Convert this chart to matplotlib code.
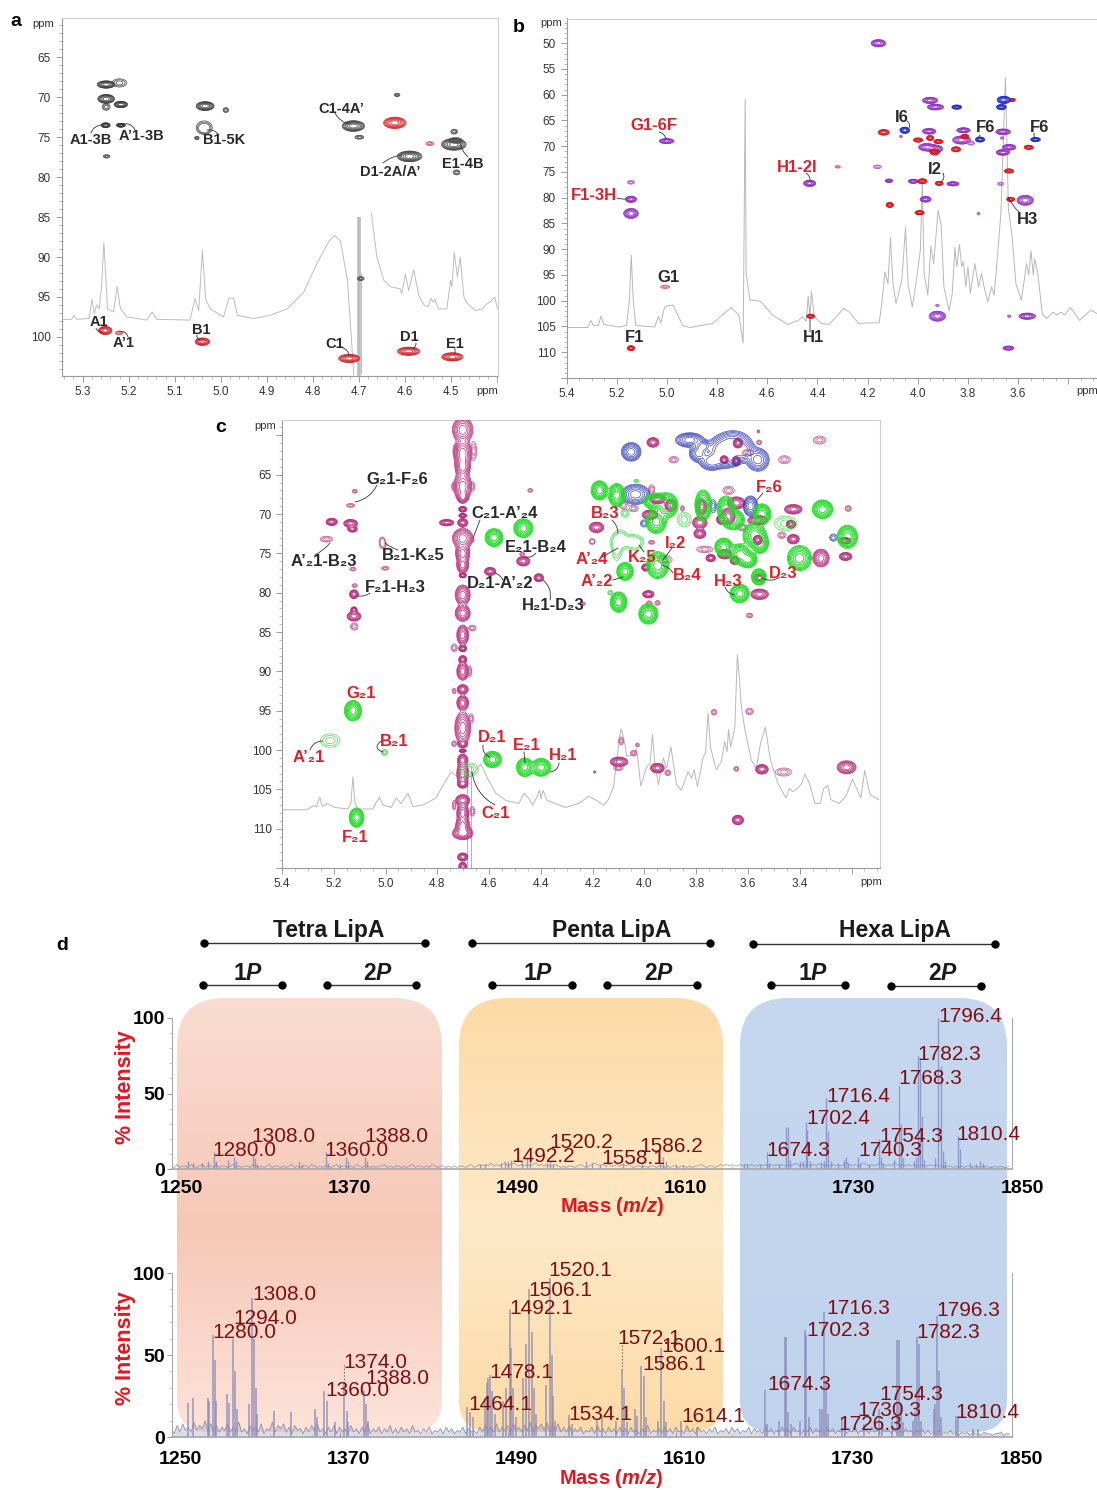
import numpy as np
import matplotlib
matplotlib.use("Agg")
import matplotlib.pyplot as plt
from matplotlib.patches import PathPatch
from matplotlib.path import Path
from matplotlib.ticker import MultipleLocator
from matplotlib.transforms import ScaledTranslation

plt.rcParams["font.family"] = ["Liberation Sans", "DejaVu Sans"]
plt.rcParams["mathtext.fontset"] = "custom"
plt.rcParams["mathtext.bfit"] = "Liberation Sans:italic:bold"
plt.rcParams["mathtext.it"] = "Liberation Sans:italic"
plt.rcParams["mathtext.rm"] = "Liberation Sans"

W, H = 1097, 1490

# every spot is (proton ppm, carbon ppm, half width, half height)
a_black = [(5.249, 68.4, .016, .38), (5.249, 70.2, .015, .46), (5.217, 70.9, .012, .33),
           (5.250, 73.5, .008, .25), (5.217, 73.5, .008, .2), (5.034, 71.1, .016, .46),
           (4.712, 73.6, .02, .55), (4.590, 77.4, .022, .55), (4.494, 75.9, .022, .6)]
a_black_light = [(5.220, 68.2, .013, .42), (5.249, 71.2, .007, .35), (5.248, 77.4, .006, .17),
                 (5.036, 73.7, .013, .6), (5.036, 74.0, .009, .4), (4.989, 71.6, .005, .25),
                 (5.052, 75.1, .004, .17), (4.699, 75.0, .008, .2), (4.617, 69.7, .005, .17),
                 (4.493, 74.3, .006, .25), (4.488, 79.4, .006, .25), (4.696, 92.7, .006, .2),
                 (4.490, 75.4, .012, .3)]
a_red = [(4.622, 73.2, .02, .58), (5.251, 99.2, .012, .42), (5.040, 100.6, .013, .38),
         (4.721, 102.7, .019, .42), (4.592, 101.8, .02, .42), (4.497, 102.5, .019, .42)]
a_red_light = [(4.546, 75.8, .007, .2), (5.221, 99.5, .007, .2)]

a_trace_x = [5.346, 5.324, 5.319, 5.313, 5.286, 5.280, 5.275, 5.270, 5.264, 5.259, 5.254, 5.251,
             5.246, 5.233, 5.225, 5.218, 5.204, 5.161, 5.149, 5.139, 5.067, 5.056, 5.048, 5.040,
             5.033, 5.023, 4.994, 4.982, 4.972, 4.964, 4.929, 4.893, 4.856, 4.820, 4.791, 4.766,
             4.753, 4.740, 4.725, 4.719, 4.711]
a_trace_y = [97.8, 97.8, 97.3, 97.8, 97.7, 95.3, 97.1, 96.0, 96.5, 93.7, 88.2, 91.2,
             96.5, 96.9, 93.7, 96.5, 97.5, 97.9, 96.9, 97.8, 97.9, 95.2, 96.7, 89.1,
             95.2, 96.5, 97.5, 95.1, 95.2, 97.3, 97.7, 97.3, 96.5, 94.4, 90.8, 88.1,
             87.3, 88.0, 92.9, 97.9, 105.0]
a_trace2_x = [4.673, 4.661, 4.646, 4.632, 4.610, 4.607, 4.599, 4.592, 4.581, 4.570, 4.559, 4.549,
              4.544, 4.539, 4.535, 4.527, 4.509, 4.501, 4.498, 4.493, 4.486, 4.480, 4.472, 4.465,
              4.447, 4.432, 4.421, 4.414, 4.405, 4.399]
a_trace2_y = [84.5, 90.0, 92.9, 93.7, 94.0, 94.6, 92.1, 94.2, 91.6, 94.8, 96.0, 96.2,
              95.2, 95.6, 95.3, 96.5, 96.5, 92.9, 93.7, 89.4, 92.5, 90.0, 95.0, 95.8,
              96.7, 96.5, 95.8, 95.6, 95.0, 96.5]
a_labels = ["A1-3B", "A’1-3B", "B1-5K", "C1-4A’", "D1-2A/A’", "E1-4B", "A1", "A’1", "B1", "C1", "D1", "E1"]

b_purple = [(4.157, 50, .024, .58), (5.143, 83.05, .024, .8), (5.143, 80.3, .018, .5),
            (5.001, 69, .024, .4), (4.431, 77.2, .02, .5), (3.951, 61.1, .025, .5),
            (3.930, 62.4, .027, .45), (3.955, 67.1, .022, .45), (3.818, 66.9, .022, .4),
            (3.825, 68.8, .03, .65), (3.964, 70.2, .027, .6), (3.930, 70.5, .024, .6),
            (3.660, 67.2, .024, .45), (3.636, 70.2, .022, .45), (3.661, 71.2, .022, .45),
            (4.018, 76.8, .016, .33), (3.860, 77.3, .02, .33), (3.969, 80.3, .018, .45),
            (3.572, 80.5, .027, .8), (3.922, 103, .027, .8), (3.564, 103, .027, .5),
            (3.639, 109.2, .018, .33), (4.115, 76.7, .012, .27)]
b_purple_light = [(5.143, 77, .012, .3), (4.161, 74, .013, .3), (3.670, 77.3, .01, .27),
                  (3.758, 83.1, .005, .2), (3.636, 103, .006, .2), (3.922, 100.9, .006, .2),
                  (3.788, 69.4, .012, .33), (3.664, 68.4, .006, .2), (4.067, 68.1, .005, .2)]
b_red = [(4.136, 67.3, .018, .45), (3.999, 68.8, .015, .33), (3.951, 68.4, .012, .4),
         (3.918, 69.1, .015, .33), (3.813, 68.1, .013, .33), (3.933, 71.1, .016, .5),
         (3.848, 70.6, .015, .4), (3.558, 70.2, .015, .33), (3.637, 74.8, .015, .33),
         (3.982, 76.8, .015, .4), (3.915, 77.2, .013, .33), (3.630, 80.3, .013, .33),
         (4.112, 81.4, .012, .4), (3.993, 82.9, .015, .33), (4.427, 103, .013, .33),
         (5.143, 109.2, .012, .4), (3.624, 61, .01, .25)]
b_red_light = [(5.007, 97.3, .015, .27), (4.319, 74, .009, .2)]
b_blue = [(4.052, 66.9, .016, .5), (3.845, 62.4, .016, .33), (3.657, 61, .022, .58),
          (3.667, 62.4, .016, .4), (3.752, 68.7, .015, .4), (3.531, 68.7, .016, .33)]

b_trace_x = [5.396, 5.315, 5.303, 5.293, 5.273, 5.263, 5.251, 5.191, 5.161, 5.149, 5.142, 5.134, 5.124,
             5.049, 5.034, 5.024, 5.009, 4.994, 4.975, 4.937, 4.907, 4.818, 4.773, 4.743, 4.713, 4.696,
             4.688, 4.684, 4.669, 4.646, 4.624, 4.579, 4.519, 4.475, 4.460, 4.445, 4.437, 4.430, 4.424,
             4.412, 4.385, 4.355, 4.325, 4.296, 4.273, 4.236, 4.199, 4.154, 4.142, 4.131, 4.119, 4.109,
             4.099, 4.087, 4.064, 4.049, 4.039, 4.022, 4.004, 3.990, 3.982, 3.975, 3.960, 3.948, 3.937,
             3.919, 3.907, 3.896, 3.875, 3.863, 3.852, 3.845, 3.834, 3.825, 3.818, 3.809, 3.800, 3.791,
             3.773, 3.758, 3.746, 3.736, 3.721, 3.706, 3.696, 3.684, 3.669, 3.651, 3.639, 3.624, 3.609,
             3.587, 3.567, 3.558, 3.549, 3.540, 3.534, 3.522, 3.504, 3.487, 3.460, 3.445, 3.430, 3.415,
             3.393, 3.378, 3.355, 3.333, 3.310, 3.286]
b_trace_y = [105.2, 105.2, 103.8, 104.8, 104.8, 103.0, 104.6, 105.1, 104.8, 99.9, 91.2, 99.9, 104.8,
             105.1, 103.1, 104.3, 101.2, 100.9, 100.9, 104.8, 105.2, 104.4, 102.5, 101.3, 102.8, 108.2,
             60.8, 94.7, 99.9, 99.9, 100.2, 102.8, 104.6, 103.8, 103.1, 104.0, 99.1, 103.1, 98.2,
             103.1, 104.4, 104.6, 103.1, 101.5, 102.2, 104.4, 104.3, 104.3, 99.9, 94.4, 96.7, 87.7,
             96.7, 100.5, 96.0, 85.8, 96.7, 101.2, 95.4, 90.2, 76.6, 94.7, 98.9, 89.4, 92.8,
             82.4, 85.3, 97.3, 102.0, 98.6, 89.7, 93.4, 89.1, 93.4, 92.4, 97.3, 93.4, 98.6,
             92.8, 97.3, 94.7, 97.3, 100.2, 97.3, 98.9, 92.2, 83.1, 56.7, 82.2, 87.7, 96.7,
             99.9, 92.8, 95.0, 90.3, 95.0, 91.8, 94.7, 102.5, 103.5, 102.2, 102.8, 102.2, 102.8,
             101.3, 102.2, 103.8, 102.8, 101.8, 102.5]
b_labels_red = ["G1-6F", "F1-3H", "H1-2I"]
b_labels_black = ["I6", "F6", "F6", "I2", "H3", "G1", "F1", "H1"]

c_stripe_y = [59.3, 62.3, 64, 66.5, 67.8, 69.4, 70.2, 71.1, 73.1, 75, 76.5, 77.8, 80.3, 82.6, 85.4, 87.1,
              88.5, 90, 92.3, 94, 97.2, 99.2, 100.1, 101.3, 103, 104.3, 106.4, 108, 109.7, 110.6, 113.6, 114.8]
c_stripe_hw = [.026, .023, .019, .023, .013, .01, .01, .013, .026, .018, .015, .009,
               .019, .019, .015, .01, .01, .015, .014, .015, .02, .012, .009, .013,
               .015, .013, .018, .015, .018, .026, .013, .01]
c_stripe_hh = [1.3, 1.5, 1.1, 1.5, .65, .3, .22, .42, 1.05, 1.05, .85, .26,
               1.05, .85, 1.05, .34, .42, .93, .5, .76, 1.7, .42, .17, .64,
               1.3, .42, .6, 1.05, 1.05, .64, .42, .42]
c_magenta = [(5.208, 71, .018, .38), (5.135, 71.2, .022, .42), (5.128, 71.9, .015, .33),
             (5.122, 80.2, .014, .46), (5.122, 83, .022, .5), (5.122, 82.2, .01, .33),
             (4.764, 71.1, .023, .33), (4.596, 77.3, .018, .42), (4.468, 76, .021, .5),
             (4.408, 78.1, .015, .42), (4.185, 71.7, .023, .55), (3.967, 60.9, .019, .5),
             (3.949, 68.1, .025, .5), (3.898, 68.9, .019, .64), (3.978, 70.1, .025, .5),
             (3.78, 69.1, .018, .85), (3.786, 71.1, .023, .64), (3.786, 72.5, .019, .5),
             (3.703, 70.7, .015, .5), (3.645, 68.6, .028, .64), (3.677, 70.3, .023, .85),
             (3.562, 70.8, .032, .5), (3.425, 69.4, .028, .5), (3.434, 71.3, .015, .42),
             (3.425, 73.2, .019, .5), (3.562, 73.3, .015, .5), (3.69, 75.1, .023, .5),
             (3.744, 75.6, .015, .38), (3.651, 75.9, .015, .42), (3.318, 75.6, .026, .93),
             (3.223, 75.4, .02, .42), (3.226, 73.4, .02, .34), (3.555, 78.1, .019, .42),
             (3.555, 80.2, .028, .55), (3.985, 80.2, .018, .38), (3.995, 76.8, .013, .38),
             (3.95, 102.3, .022, .5), (3.546, 102.45, .02, .5), (3.219, 102.2, .03, .68),
             (3.639, 108.9, .018, .5), (4.098, 101.5, .028, .5), (3.645, 63.3, .013, .5),
             (3.692, 63.1, .013, .42), (3.639, 61, .015, .5)]
c_magenta_light = [(5.119, 67.1, .008, .2), (5.135, 68.9, .013, .2), (5.228, 73.2, .02, .3),
                   (5.013, 73.4, .008, .38), (5.01, 73.9, .01, .42), (5.001, 76.9, .012, .2),
                   (5.126, 77, .01, .2), (5.119, 79.1, .008, .2), (5.121, 84.3, .012, .38),
                   (4.472, 75.1, .008, .2), (4.441, 67, .008, .2), (4.664, 73.3, .005, .25),
                   (4.2, 73.5, .006, .2), (4.235, 81.4, .005, .17), (3.887, 63.1, .015, .34),
                   (3.6, 62.2, .018, .34), (3.557, 60.9, .008, .25), (3.56, 59.5, .004, .17),
                   (3.323, 60.6, .02, .42), (3.459, 63.1, .019, .42), (3.972, 66.9, .01, .5),
                   (3.675, 67, .018, .42), (3.622, 71.7, .018, .34), (3.469, 72.7, .013, .34),
                   (3.767, 74.5, .026, .34), (3.921, 75.8, .023, .42), (3.982, 81.4, .01, .3),
                   (3.949, 81.3, .008, .25), (3.594, 82.9, .01, .25), (4.203, 73.5, .008, .25),
                   (4.042, 69.3, .015, .34), (4.081, 68.9, .013, .42), (3.972, 73.6, .01, .2),
                   (3.853, 69.3, .006, .3), (3.213, 69.3, .01, .3), (4.09, 98.85, .008, .42),
                   (4.1, 102.3, .015, .25), (4.042, 100.4, .01, .3), (4.027, 99.36, .006, .2),
                   (3.91, 102.9, .009, .3), (3.731, 95.2, .009, .3), (3.594, 95.1, .012, .34),
                   (3.645, 102.4, .008, .25), (3.462, 102.8, .026, .42), (4.192, 102.8, .004, .12),
                   (4.73, 62, .008, .8), (4.66, 62, .01, 1.0), (4.735, 66.5, .008, .5), (4.665, 66.5, .008, .5),
                   (4.665, 84.5, .012, .3), (4.735, 87, .01, .4), (4.675, 90, .006, .6), (4.735, 92.5, .006, .3),
                   (4.67, 96, .008, .5), (4.735, 99.2, .008, .3), (4.665, 107.8, .008, .5), (4.735, 107, .006, .5)]
c_green = [(5.126, 95, .027, 1.06), (5.112, 108.6, .023, 1.0), (4.587, 101.2, .028, .85),
           (4.462, 102.2, .026, .97), (4.399, 102.2, .03, .93), (4.581, 73, .028, .93),
           (4.468, 71.8, .03, .97), (4.174, 67, .026, 1.0), (4.107, 67.6, .026, 1.2),
           (3.955, 71, .032, 1.2), (3.914, 68.9, .036, 1.3), (3.959, 68.4, .036, .85),
           (3.773, 68.9, .026, 1.6), (3.685, 69.3, .028, 1.3), (3.658, 70.7, .036, 1.06),
           (3.546, 70, .028, 1.06), (3.312, 69.4, .032, .97), (3.216, 72.9, .032, 1.2),
           (3.575, 72.7, .036, 1.3), (3.553, 73.7, .026, 1.06), (3.694, 74.2, .028, .93),
           (3.632, 75.1, .032, 1.06), (3.6, 75.8, .028, .85), (3.401, 75.6, .038, 1.3),
           (3.558, 78, .023, .85), (3.632, 80.1, .03, .97), (3.949, 76.5, .035, 1.4),
           (4.075, 77.3, .026, .93), (4.1, 81.2, .026, 1.06), (3.985, 82.7, .03, 1.06)]
c_green_light = [(5.214, 98.8, .031, .7), (5.004, 100.3, .01, .33), (4.676, 102.5, .028, .7),
                 (3.846, 70.7, .022, .76), (3.455, 71.2, .036, .76), (4.132, 80, .008, .25),
                 (4.075, 69.9, .013, .42), (4.031, 65.8, .008, .17), (4.094, 73.1, .019, .85),
                 (4.068, 73.5, .045, .64), (4.036, 73.7, .019, .64), (4.107, 74.6, .015, 1.05)]
c_blue = [(4.051, 62.1, .031, .97), (3.825, 60.6, .045, .76), (3.773, 61.4, .026, .64),
          (3.658, 61, .058, 1.3), (3.69, 62.9, .058, 1.06), (3.741, 63.3, .038, .93),
          (3.562, 63.1, .036, 1.2), (4.034, 67.5, .045, 1.06), (3.59, 69, .023, 1.06),
          (3.70, 61.8, .05, 1.3), (3.62, 62, .04, 1.1), (3.79, 62.3, .03, .9)]
c_blue_light = [(3.734, 69, .01, .68), (4.001, 71.2, .012, .38), (3.27, 73, .012, .38)]

c_trace_x = [5.397, 5.305, 5.279, 5.267, 5.254, 5.244, 5.226, 5.196, 5.145, 5.134, 5.126, 5.118, 5.106,
             5.049, 5.036, 5.023, 5.01, 4.978, 4.959, 4.94, 4.913, 4.895, 4.856, 4.805, 4.773, 4.747,
             4.722, 4.67, 4.632, 4.606, 4.574, 4.536, 4.485, 4.465, 4.446, 4.431, 4.414, 4.405, 4.399,
             4.392, 4.376, 4.305, 4.254, 4.216, 4.19, 4.158, 4.139, 4.119, 4.107, 4.091, 4.081, 4.068,
             4.042, 4.03, 4.014, 3.991, 3.978, 3.969, 3.959, 3.946, 3.927, 3.914, 3.898, 3.876, 3.857,
             3.831, 3.818, 3.808, 3.795, 3.773, 3.764, 3.754, 3.745, 3.731, 3.722, 3.703, 3.69, 3.681,
             3.675, 3.667, 3.651, 3.641, 3.635, 3.626, 3.613, 3.587, 3.568, 3.551, 3.533, 3.513, 3.485,
             3.453, 3.44, 3.427, 3.408, 3.392, 3.38, 3.363, 3.341, 3.321, 3.308, 3.292, 3.28, 3.248,
             3.222, 3.196, 3.164, 3.149, 3.128, 3.095]
c_trace_y = [107.6, 107.6, 107.1, 107.2, 106, 107.2, 106.8, 107.3, 107.5, 106.8, 103.4, 106.8, 107.5,
             107.5, 106.7, 106, 107, 107.3, 106.1, 106.8, 105.5, 107.2, 107, 106.1, 104.2, 102.8,
             103.4, 103.4, 101.8, 103.6, 105.5, 106.4, 106.8, 105.5, 106.2, 107, 105.9, 105.1, 106.2,
             105.1, 106.4, 107.3, 106.8, 105.9, 106.3, 107, 106.3, 104.65, 101.3, 97.3, 98.3, 100.8,
             100.6, 99.8, 104.6, 102.1, 101.7, 98, 101.9, 104.4, 101, 102.3, 99.6, 104.4, 105.1,
             102.75, 103.6, 102.5, 104.65, 100.9, 100.4, 95.3, 99.6, 101.5, 102.5, 101.5, 98.9, 100.2,
             97.4, 99.6, 97.2, 87.9, 90, 94.3, 97.2, 101.3, 102.3, 99.1, 97.1, 101.3, 104.2,
             106.1, 104.9, 105.3, 104.9, 104.2, 103.1, 104.2, 106.8, 106.8, 104.9, 104.5, 106.3, 106.8,
             105.9, 103.7, 106.1, 102.6, 105.7, 106.3]
c_water = [4.687, 4.67]
c_labels_black = ["G₂1-F₂6", "A’₂1-B₂3", "B₂1-K₂5", "F₂1-H₂3", "C₂1-A’₂4", "E₂1-B₂4", "D₂1-A’₂2", "H₂1-D₂3"]
c_labels_red = ["G₂1", "A’₂1", "B₂1", "D₂1", "E₂1", "H₂1", "C₂1", "F₂1", "B₂3", "A’₂4", "K₂5", "I₂2",
                "B₂4", "A’₂2", "H₂3", "D₂3", "F₂6"]

# mass spectra: stick peaks plus the baseline read every 2 m/z
top_mz = [1262, 1265, 1272, 1276, 1280, 1281.5, 1290, 1294.6, 1296, 1308, 1309.5, 1311, 1341, 1343,
          1360, 1361.5, 1374.6, 1376, 1388, 1389.5, 1470, 1474, 1485, 1488, 1490, 1492, 1500, 1504,
          1506, 1518, 1520, 1522, 1546, 1550, 1556, 1572, 1586, 1599, 1601, 1603, 1615, 1659, 1661,
          1670, 1675, 1676.5, 1684, 1688.7, 1690, 1691.5, 1699, 1701, 1703, 1704, 1706, 1714, 1716,
          1717.5, 1719, 1721, 1726, 1730, 1731.8, 1733, 1740, 1741.5, 1748, 1755, 1756.5, 1758, 1766,
          1769, 1770.5, 1772, 1780, 1781.5, 1783, 1784.3, 1785.5, 1787, 1795, 1797.5, 1799, 1800.5,
          1802, 1811.6, 1813, 1820, 1824, 1827, 1829, 1835]
top_int = [5, 4, 4, 5, 11.5, 5, 6, 8, 5, 9, 7, 3, 5, 3,
           11, 4, 8, 5, 8, 5, 3, 3, 4, 5, 5, 6, 5, 7,
           6, 4, 5, 3, 5, 4, 3, 4, 5, 4, 8, 5, 2.5, 3, 3,
           3, 11.5, 4, 3, 28, 28, 6, 5, 5, 31, 26, 5, 4, 5,
           47, 25, 5, 4, 6, 8, 4, 8, 4, 3, 20, 8, 4, 6,
           55, 30, 7, 5, 8, 75, 72, 35, 6, 7, 100, 68, 12,
           5, 22, 13, 4, 3, 5, 4, 2]
top_base = [2, 1, 3, 1, 2, 2, 1, 3, 2, 1, 2, 3, 1, 2, 2, 1, 3, 1, 2, 2,
            1, 2, 3, 1, 2, 1, 2, 2, 1, 3, 2, 1, 2, 1, 2, 3, 1, 2, 2, 1,
            2, 1, 2, 3, 1, 2, 1, 2, 2, 1, 3, 2, 1, 2, 1, 2, 2, 1, 2, 3,
            1, 2, 2, 1, 2, 1, 3, 2, 1, 2, 2, 1, 2, 1, 2, 2, 3, 1, 2, 1,
            2, 2, 1, 2, 1, 2, 3, 1, 2, 2, 1, 2, 1, 3, 2, 1, 2, 2, 1, 2,
            1, 2, 1, 2, 2, 1, 2, 3, 1, 2, 3, 2, 3, 2, 4, 2, 3, 2, 3, 4,
            2, 3, 4, 3, 2, 3, 2, 3, 2, 3, 4, 2, 3, 2, 3, 2, 2, 3, 2, 1,
            2, 1, 2, 2, 1, 2, 3, 2, 1, 2, 3, 4, 3, 2, 3, 2, 3, 2, 2, 3,
            2, 3, 2, 3, 2, 1, 2, 2, 1, 2, 1, 2, 2, 1, 2, 2, 1, 2, 1, 2,
            2, 1, 2, 2, 1, 2, 1, 2, 2, 3, 2, 1, 2, 2, 1, 2, 3, 2, 3, 2,
            3, 2, 2, 3, 2, 3, 2, 3, 2, 2, 3, 2, 3, 2, 3, 2, 3, 2, 3, 2,
            3, 2, 3, 4, 2, 3, 2, 3, 2, 3, 2, 3, 4, 2, 3, 2, 3, 2, 3, 2,
            3, 4, 3, 2, 3, 2, 3, 4, 3, 2, 3, 2, 3, 4, 3, 2, 3, 2, 4, 3,
            2, 3, 2, 3, 2, 3, 2, 2, 3, 2, 2, 3, 2, 3, 2, 2, 1, 2, 2, 1,
            2, 1, 2, 1, 2, 2, 1, 2, 1, 2, 1, 2, 1, 1, 2, 1, 2, 1, 1, 2]

bottom_mz = [1261.5, 1265, 1276, 1277, 1279.5, 1281, 1282, 1289.5, 1291, 1293.7, 1295, 1296.5, 1305.5,
             1307.8, 1309, 1310, 1311, 1323, 1335, 1352.5, 1354, 1359, 1361, 1367, 1373.4, 1375, 1376,
             1387.4, 1389, 1390, 1461, 1463, 1465, 1473.6, 1475, 1476, 1477.5, 1479, 1481, 1487, 1489,
             1491.4, 1492.5, 1494, 1496, 1501, 1503, 1505.5, 1507, 1508.5, 1510, 1517.5, 1520, 1521.3,
             1522.5, 1524, 1534, 1536, 1553.5, 1557.5, 1567.5, 1571.5, 1573, 1575, 1581, 1582.5, 1585.4,
             1587, 1589, 1597, 1599.6, 1601.5, 1603, 1614, 1625, 1674, 1675, 1684, 1687.6, 1688.8, 1690,
             1692, 1699, 1702, 1703.3, 1705, 1713, 1714.5, 1716, 1717.5, 1719, 1729, 1730.5, 1744, 1755,
             1757, 1764, 1767.6, 1769, 1770.5, 1772, 1779, 1780.5, 1782, 1783.3, 1785, 1794, 1795,
             1796.5, 1798, 1799.5, 1810, 1811.5, 1822, 1826]
bottom_int = [21, 24, 24, 22, 62, 47, 22, 26, 21, 60, 40, 17, 20,
              85, 60, 30, 14, 16, 15, 17, 12, 28, 22, 9, 33, 16, 9,
              28, 20, 10, 18, 15, 12, 24, 33, 36, 38, 28, 14, 22, 30,
              78, 54, 30, 12, 36, 57, 90, 64, 30, 14, 32, 97, 50,
              25, 10, 13.5, 8, 11, 12, 10, 41, 30, 9, 17, 13, 43,
              37, 12, 10, 54, 22, 9, 10, 6, 28.6, 8, 10, 61, 61, 15,
              8, 10, 65, 62, 12, 17, 17, 76, 35, 14, 12, 9, 8, 17,
              9, 10, 59, 59, 20, 9, 10, 15, 61, 57, 10, 17, 20,
              74, 40, 12, 13, 13, 5, 5]
bottom_base = [5, 2, 7, 3, 8, 4, 6, 3, 9, 4, 7, 5, 10, 3, 8, 4, 7, 3, 6, 4,
               8, 3, 6, 4, 9, 3, 5, 2, 7, 4, 6, 3, 8, 2, 5, 4, 9, 3, 7, 5,
               8, 3, 6, 2, 7, 4, 5, 2, 6, 3, 7, 4, 8, 3, 5, 2, 6, 3, 7, 2,
               6, 3, 5, 2, 7, 3, 5, 2, 6, 3, 8, 2, 5, 3, 6, 2, 5, 3, 7, 2,
               5, 2, 6, 3, 5, 2, 7, 3, 4, 2, 5, 3, 6, 2, 4, 3, 5, 2, 6, 3,
               5, 2, 4, 3, 6, 2, 5, 3, 4, 2, 6, 3, 7, 4, 6, 3, 8, 3, 6, 4,
               7, 3, 8, 4, 6, 3, 7, 4, 9, 3, 7, 5, 8, 4, 9, 3, 7, 4, 8, 3,
               6, 3, 7, 2, 5, 3, 6, 2, 4, 3, 6, 2, 7, 3, 5, 2, 6, 3, 5, 2,
               6, 3, 5, 2, 6, 3, 4, 2, 5, 3, 7, 2, 4, 3, 5, 2, 6, 3, 5, 2,
               6, 3, 4, 2, 7, 3, 5, 2, 6, 3, 4, 2, 5, 3, 6, 2, 4, 3, 5, 2,
               6, 3, 5, 2, 4, 3, 6, 2, 5, 3, 4, 2, 6, 3, 5, 2, 4, 3, 6, 3,
               5, 2, 6, 3, 4, 2, 5, 3, 6, 2, 5, 3, 4, 2, 6, 3, 5, 2, 4, 3,
               5, 2, 4, 3, 6, 2, 4, 3, 5, 2, 6, 3, 4, 2, 5, 3, 4, 2, 5, 2,
               4, 2, 5, 3, 4, 2, 4, 3, 5, 2, 4, 2, 3, 2, 4, 2, 3, 2, 4, 2,
               3, 1, 3, 2, 3, 1, 3, 2, 2, 1, 3, 2, 2, 1, 2, 2, 3, 1, 2, 2]
bottom_leader_mz = [1373.4, 1571.5]
bottom_leader_low = [33, 41]
bottom_leader_high = [44, 57]
mass_ticks = [1250, 1370, 1490, 1610, 1730, 1850]

top_labels = ["1280.0", "1308.0", "1360.0", "1388.0", "1492.2", "1520.2", "1558.1", "1586.2", "1674.3",
              "1702.4", "1716.4", "1740.3", "1754.3", "1768.3", "1782.3", "1796.4", "1810.4"]
bottom_labels = ["1280.0", "1294.0", "1308.0", "1360.0", "1374.0", "1388.0", "1464.1", "1478.1", "1492.1",
                 "1506.1", "1520.1", "1534.1", "1572.1", "1586.1", "1600.1", "1614.1", "1674.3", "1702.3",
                 "1716.3", "1726.3", "1730.3", "1754.3", "1782.3", "1796.3", "1810.4"]
group_titles = ["Tetra LipA", "Penta LipA", "Hexa LipA"]


def px_axes(left, top, right, bottom, **kw):
    return fig.add_axes([left / W, 1 - bottom / H, (right - left) / W, (bottom - top) / H], **kw)


def spots(ax, peaks, color, light=False, lw=0.5, grow=1.22):
    # gaussian hills built from the read spots, the contours themselves come from ax.contour
    x0, x1 = sorted(ax.get_xlim())
    y0, y1 = sorted(ax.get_ylim())
    gx = np.linspace(x0, x1, 1100)
    gy = np.linspace(y0, y1, 900)
    X, Y = np.meshgrid(gx, gy)
    amp = 2.6 if light else 14.0
    norm = 2 * np.log(amp)
    Z = np.zeros_like(X)
    for px, py, rx, ry in peaks:
        Z += amp * np.exp(-norm * (((X - px) / (rx * grow)) ** 2 + ((Y - py) / (ry * grow)) ** 2) / 2)
    levels = [1, 1.5, 2.1] if light else np.geomspace(1, 10, 7)
    ax.contour(X, Y, Z, levels=levels, colors=color, linewidths=lw, zorder=3)


def nmr_axes(box, xlim, ylim, xstep, ystep, xminor, yminor, xmin_label, ymin_label, ymax_label):
    ax = px_axes(*box)
    ax.set_xlim(*xlim)
    ax.set_ylim(*ylim)
    ax.xaxis.set_major_locator(MultipleLocator(xstep))
    ax.yaxis.set_major_locator(MultipleLocator(ystep))
    ax.xaxis.set_minor_locator(MultipleLocator(xminor))
    ax.yaxis.set_minor_locator(MultipleLocator(yminor))
    ax.tick_params(which="major", length=4.5, width=0.6, color="#8a8a8a", labelsize=8.5,
                   labelcolor="#333333", pad=3)
    ax.tick_params(which="minor", length=2, width=0.5, color="#a5a5a5")
    ax.xaxis.set_major_formatter(lambda v, p: f"{v:.1f}" if v >= xmin_label else "")
    ax.yaxis.set_major_formatter(lambda v, p: f"{v:.0f}" if ymin_label <= v <= ymax_label else "")
    for side in ax.spines:
        ax.spines[side].set_linewidth(0.8)
        ax.spines[side].set_color("#cfcfcf")
    ax.spines["left"].set_color("#9a9a9a")
    ax.spines["bottom"].set_color("#9a9a9a")
    return ax


def spectrum_axes(box, tick_dx, pad):
    ax = px_axes(*box)
    ax.patch.set_alpha(0)
    ax.set_xlim(1250, 1850)
    ax.set_ylim(0, 100)
    ax.set_xticks(mass_ticks)
    ax.set_yticks([0, 50, 100])
    ax.xaxis.set_minor_locator(MultipleLocator(30))
    ax.yaxis.set_minor_locator(MultipleLocator(10))
    ax.tick_params(which="major", direction="in", length=3.5, width=0.7, color="#9a9a9a",
                   labelsize=14, pad=pad)
    ax.tick_params(which="minor", direction="in", length=2, width=0.5, color="#b5b5b5")
    ax.tick_params(axis="y", direction="out", pad=1)
    ax.tick_params(axis="y", which="minor", direction="out")
    for t in ax.get_xticklabels() + ax.get_yticklabels():
        t.set_fontweight("bold")
    shift = ScaledTranslation(tick_dx / 100, 0, fig.dpi_scale_trans)
    for t in ax.get_xticklabels():
        t.set_transform(t.get_transform() + shift)
    ax.spines["top"].set_visible(False)
    for side in ["left", "right", "bottom"]:
        ax.spines[side].set_color("#a8a8a8")
    ax.spines["bottom"].set_linewidth(1.2)
    return ax


def shade(left, right, top, bottom, stops):
    # rounded colour band behind both spectra
    rt, rb = 48, 32
    verts = [(left, bottom - rb), (left, top + rt), (left, top), (left + rt, top), (right - rt, top),
             (right, top), (right, top + rt), (right, bottom - rb), (right, bottom), (right - rb, bottom),
             (left + rb, bottom), (left, bottom), (left, bottom - rb), (left, bottom - rb)]
    codes = [Path.MOVETO, Path.LINETO, Path.CURVE3, Path.CURVE3, Path.LINETO, Path.CURVE3, Path.CURVE3,
             Path.LINETO, Path.CURVE3, Path.CURVE3, Path.LINETO, Path.CURVE3, Path.CURVE3, Path.CLOSEPOLY]
    patch = PathPatch(Path(verts, codes), facecolor="none", edgecolor="none")
    bg.add_patch(patch)
    ys = np.linspace(0, 1, 200)
    pos = [0, 0.53, 1]
    rgb = np.array([matplotlib.colors.to_rgb(c) for c in stops])
    grad = np.stack([np.interp(ys, pos, rgb[:, i]) for i in range(3)], axis=1)[:, None, :]
    im = bg.imshow(grad, extent=(left, right, bottom, top), aspect="auto", zorder=1)
    im.set_clip_path(patch)


def place(names, where, color, size, **kw):
    for name, (x, y) in zip(names, where):
        ov.text(x, y, name, color=color, fontsize=size, ha="center", va="center", **kw)


def connect(links):
    for x0, y0, x1, y1, rad in links:
        ov.annotate("", xy=(x1, y1), xytext=(x0, y0),
                    arrowprops=dict(arrowstyle="-", lw=0.6, color="#333333", shrinkA=0, shrinkB=0,
                                    connectionstyle=f"arc3,rad={rad}"))


fig = plt.figure(figsize=(W / 100, H / 100), dpi=100)

bg = px_axes(0, 0, W, H, zorder=0)
bg.axis("off")
shade(177, 442, 998, 1432, ["#f9ddd2", "#f6c8b6", "#fde3d9"])
shade(459, 723, 998, 1432, ["#fcdba6", "#fee9c8", "#fcdba6"])
shade(740, 1007, 998, 1432, ["#c6d8ee", "#c4d6ee", "#bfd3ec"])
bg.set_xlim(0, W)
bg.set_ylim(H, 0)

# panel a
ax_a = nmr_axes((61.5, 18, 497.5, 376), (5.346, 4.399), (104.9, 60.07), 0.1, 5, 0.02, 1, 4.45, 65, 100)
ax_a.plot(a_trace_x, a_trace_y, color="#bdbdbd", lw=0.7, zorder=1)
ax_a.plot(a_trace2_x, a_trace2_y, color="#bdbdbd", lw=0.7, zorder=1)
ax_a.vlines(4.699, 85, 105, color="#bdbdbd", lw=2.6, zorder=1)
ax_a.vlines(4.696, 92, 104.5, color="#bdbdbd", lw=0.7, zorder=1)
spots(ax_a, a_black, "#333333", lw=0.45)
spots(ax_a, a_black_light, "#444444", light=True)
spots(ax_a, a_red, "#d81e24")
spots(ax_a, a_red_light, "#d9534f", light=True)

# panel b
ax_b = nmr_axes((566.5, 18.5, 1097, 378), (5.4, 3.286), (115, 45.2), 0.2, 5, 0.05, 1, 3.5, 50, 110)
ax_b.plot(b_trace_x, b_trace_y, color="#b8b8b8", lw=0.7, zorder=1)
spots(ax_b, b_purple, "#9330c4")
spots(ax_b, b_purple_light, "#a95fd0", light=True)
spots(ax_b, b_red, "#e3151a")
spots(ax_b, b_red_light, "#e0605c", light=True)
spots(ax_b, b_blue, "#1c2fd6")
ax_b.spines["right"].set_visible(False)

# panel c
ax_c = nmr_axes((282, 420, 880, 868), (5.4, 3.09), (115, 58.05), 0.2, 5, 0.05, 1, 3.3, 65, 110)
ax_c.plot(c_trace_x, c_trace_y, color="#b8b8b8", lw=0.7, zorder=1)
ax_c.vlines(c_water, 102, 115, color="#b0b0b0", lw=0.7, zorder=1)
stripe = [(4.702, y, hw * 1.25, hh) for y, hw, hh in zip(c_stripe_y, c_stripe_hw, c_stripe_hh)]
spots(ax_c, stripe + c_magenta, "#bb2a78")
spots(ax_c, c_magenta_light, "#c4558f", light=True)
spots(ax_c, c_blue, "#2f3bb8", lw=0.45)
spots(ax_c, c_blue_light, "#4450c0", light=True)
spots(ax_c, c_green, "#25dd2a", lw=0.7)
spots(ax_c, c_green_light, "#4fdc55", light=True)

# panel d spectra
ax_top = spectrum_axes((171.5, 1018, 1012, 1169), 10, 8)
base_mz = np.arange(1250, 1850, 2)
ax_top.plot(base_mz, top_base, color="#7478ac", lw=0.5, alpha=0.8)
ax_top.vlines(top_mz, 0, top_int, color="#7c86c0", lw=1.0, alpha=0.75)

ax_bot = spectrum_axes((171.5, 1273, 1012, 1437), 9, 10)
ax_bot.fill_between(base_mz, 0, bottom_base, color="#8f8fb2", alpha=0.3, lw=0)
ax_bot.plot(base_mz, bottom_base, color="#8c8aa8", lw=0.7, alpha=0.85)
ax_bot.vlines(bottom_mz, 0, bottom_int, color="#8a88b8", lw=1.25, alpha=0.75)
ax_bot.vlines(bottom_leader_mz, bottom_leader_low, bottom_leader_high, color="#777777", lw=0.8,
              linestyles=(0, (1.5, 1.5)))

# overlay for labels, placed in figure pixels
ov = px_axes(0, 0, W, H, zorder=5)
ov.axis("off")
ov.set_xlim(0, W)
ov.set_ylim(H, 0)

for letter, x, y in [("a", 16, 21), ("b", 519, 27), ("c", 221, 427), ("d", 62, 946)]:
    ov.text(x, y, letter, fontsize=14, fontweight="bold", ha="center", va="center")
for x, y in [(43, 24), (487, 391), (551, 23), (1087, 391), (265, 426), (871, 882)]:
    ov.text(x, y, "ppm", fontsize=8, color="#333333", ha="center", va="center")

place(a_labels, [(91, 140), (141, 136), (224, 140), (341, 109), (390, 172), (463, 164),
                 (99, 322), (124, 343), (201, 330), (335, 344), (409, 337), (455, 344)],
      "#2a2a2a", 10.5, fontweight="bold")
connect([(91, 133, 103, 125, -0.35), (136, 132, 120, 125, 0.5), (219, 135, 207, 130, 0.3),
         (335, 113, 350, 124, 0.25), (383, 163, 402, 155, -0.15), (468, 157, 460, 143, -0.15),
         (96, 328, 102, 332, 0.4), (128, 337, 119, 332, 0.5), (197, 335, 200, 340, 0.4),
         (343, 348, 349, 355, -0.3), (416, 343, 413, 349, -0.3), (455, 348, 455, 354, 0)])

place(b_labels_red, [(654, 125), (594, 196), (797, 167)], "#e02028", 12, fontweight="bold")
place(b_labels_black, [(902, 118), (986, 128), (1040, 128), (935, 170), (1028, 219), (668, 278),
                       (635, 338), (814, 338)], "#2a2a2a", 12, fontweight="bold")
connect([(659, 132, 666, 139, -0.3), (617, 198, 626, 199, 0.1), (806, 173, 810, 181, -0.3),
         (907, 121, 909, 128, -0.4), (980, 135, 978, 138, 0), (1034, 133, 1035, 138, 0.2),
         (943, 173, 941, 182, -0.4), (1019, 212, 1008, 197, -0.1), (810, 332, 810, 318, 0)])

place(c_labels_black, [(397, 479), (324, 561), (413, 556), (395, 587), (505, 513), (536, 547), (500, 584),
                       (553, 605)], "#2a2a2a", 12, fontweight="bold")
place(c_labels_red, [(361, 693), (309, 757), (394, 741), (492, 738), (527, 745), (563, 755), (496, 814),
                     (355, 837), (605, 514), (592, 559), (642, 558), (676, 543), (687, 576), (597, 582),
                     (728, 581), (783, 573), (769, 488)], "#e02028", 12, fontweight="bold")
connect([(377, 485, 355, 502, -0.25), (315, 555, 330, 543, 0.1), (398, 550, 385, 543, -0.1),
         (370, 593, 358, 596, -0.2), (480, 520, 473, 538, 0), (536, 553, 525, 557, -0.3),
         (503, 580, 495, 573, 0.2), (550, 600, 543, 580, 0.3), (310, 750, 323, 741, -0.35),
         (381, 741, 383, 752, 0.9), (483, 745, 490, 757, 0.4), (524, 752, 525, 763, 0),
         (559, 763, 550, 772, -0.4), (495, 805, 472, 772, -0.25), (612, 520, 618, 533, -0.2),
         (602, 557, 618, 548, 0), (644, 552, 639, 545, 0), (672, 548, 663, 560, 0),
         (673, 573, 662, 565, 0.2), (613, 580, 623, 577, 0), (725, 587, 735, 595, 0.3),
         (780, 577, 762, 578, -0.3), (763, 493, 757, 500, 0)])

# brackets above the spectra
for x0, x1, y in [(204, 425, 942.5), (472, 710, 942.5), (753, 995, 943.5), (203, 282, 985), (327, 416, 985),
                  (492, 572, 985), (607, 697, 985), (771, 845, 985), (891, 981, 986)]:
    ov.plot([x0, x1], [y, y], color="#333333", lw=1, marker="o", ms=5, mfc="black", mec="black")
for title, x, y in zip(group_titles, [329, 612, 895], [931, 931, 930]):
    ov.text(x, y, title, fontsize=16.5, fontweight="bold", color="#1a1a1a", ha="center", va="center")
for name, x in zip(["1", "2", "1", "2", "1", "2"], [248, 378.5, 538, 659, 813, 943]):
    ov.text(x, 974, name + r"$\mathbfit{P}$", fontsize=16.5, fontweight="bold", color="#1a1a1a",
            ha="center", va="center")

place(top_labels, [(244.5, 1150), (283, 1136), (356.6, 1150), (396, 1137), (543, 1157), (581, 1143), (633, 1158),
                   (671, 1147), (798, 1150), (838, 1119), (858, 1096), (890.6, 1151), (911, 1137), (930.5, 1078),
                   (949, 1054), (970, 1016), (988.5, 1134)], "#7d0f12", 15)
place(bottom_labels, [(244.5, 1333), (265, 1319), (284, 1295), (357, 1391), (375.5, 1362), (397.6, 1378),
                      (500.5, 1405), (521, 1373), (541, 1308), (560.5, 1290), (580, 1271), (600, 1414),
                      (649, 1338), (674, 1365), (693, 1347), (713.6, 1417), (799, 1385), (838.5, 1330),
                      (858, 1308), (870, 1425), (889, 1410), (911, 1395), (948, 1333), (968, 1311),
                      (987, 1413)], "#7d0f12", 15)

for y in [1087, 1348]:
    ov.text(125, y, "% Intensity", color="#e8141c", fontsize=15.5, fontweight="bold", rotation=90,
            ha="center", va="center")
for x, y in [(612, 1207), (611, 1479)]:
    ov.text(x, y, r"Mass ($\mathbfit{m/z}$)", color="#e8141c", fontsize=14.5, fontweight="bold",
            ha="center", va="center")

fig.savefig("out.png", dpi=100)
